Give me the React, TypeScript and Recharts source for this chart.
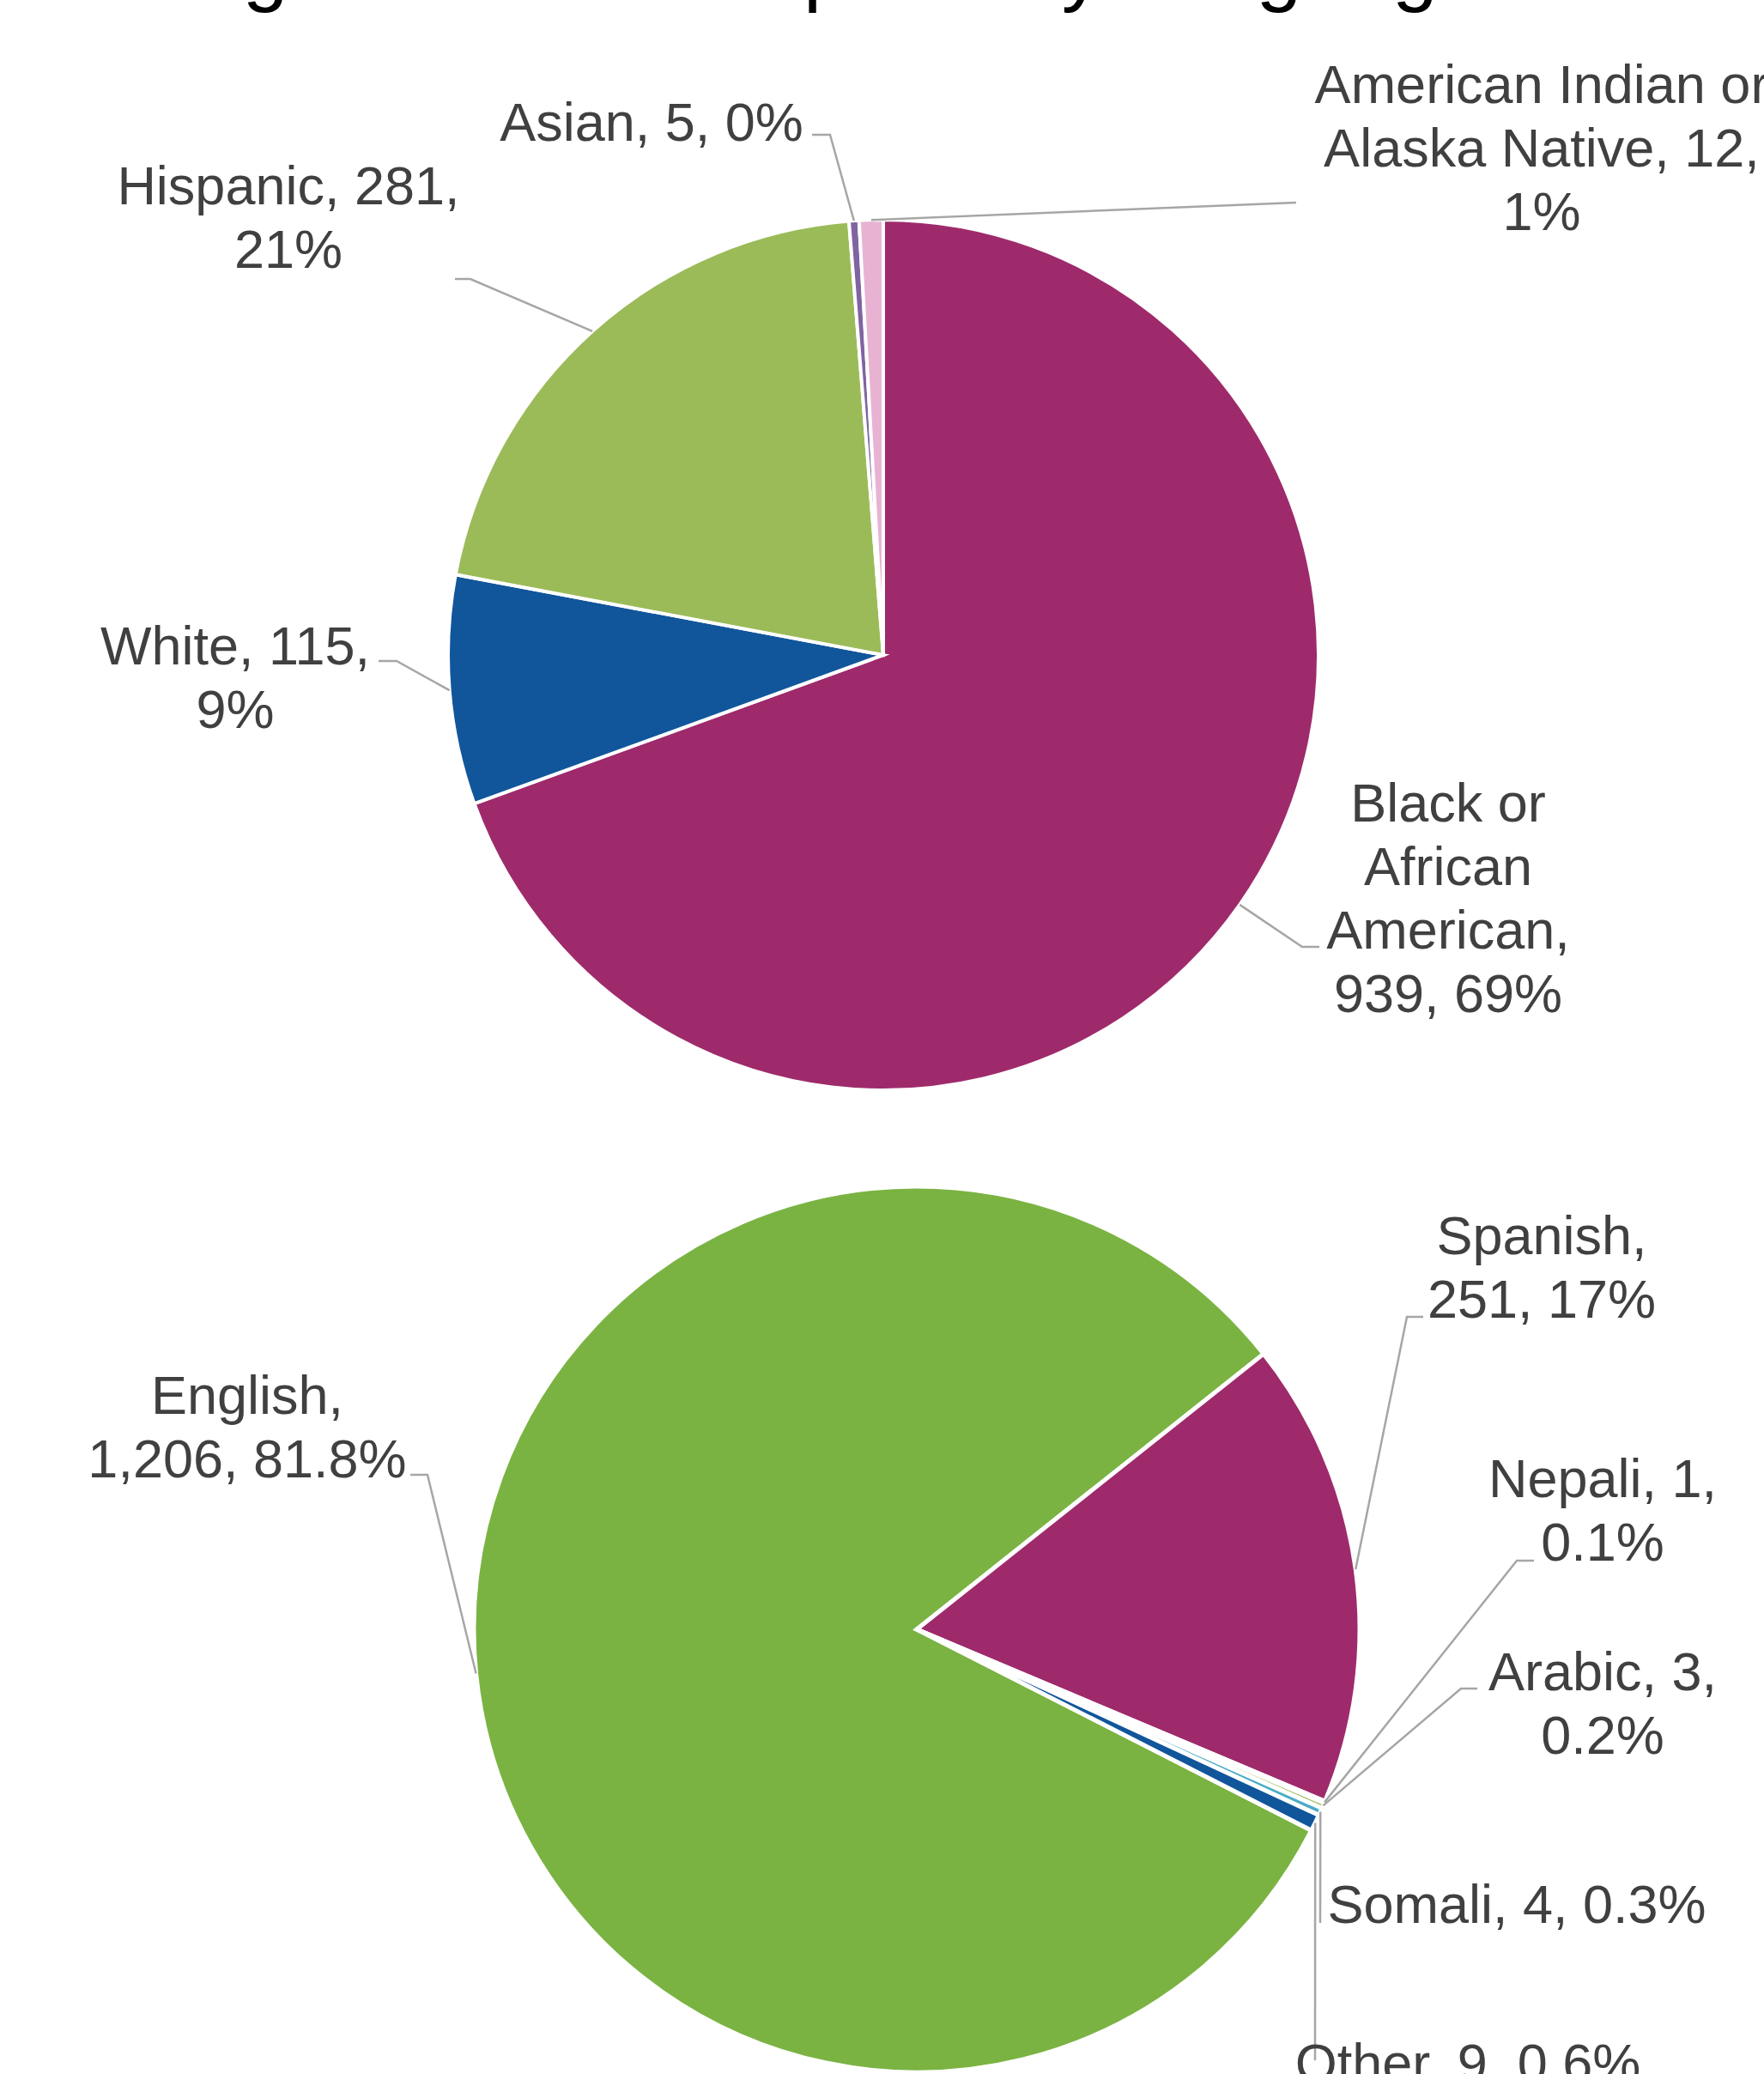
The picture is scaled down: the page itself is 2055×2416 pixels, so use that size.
import React from 'react';
import { PieChart, Pie, Cell } from 'recharts';

const W = 2055;
const H = 2416;
const RADIAN = Math.PI / 180;
const FONT = '"Liberation Sans", Arial, sans-serif';

// top pie: race / ethnicity
const raceNames = ['Black or African American', 'White', 'Hispanic', 'Asian', 'American Indian or Alaska Native'];
const raceCounts = [939, 115, 281, 5, 12];
const racePct = ['69%', '9%', '21%', '0%', '1%'];
const raceColors = ['#9E2A6B', '#11569B', '#9BBB59', '#8064A2', '#E8B3D3'];

// bottom pie: language
const langNames = ['English', 'Spanish', 'Nepali', 'Arabic', 'Somali', 'Other'];
const langCounts = [1206, 251, 1, 3, 4, 9];
const langPct = ['81.8%', '17%', '0.1%', '0.2%', '0.3%', '0.6%'];
const langColors = ['#7AB342', '#9E2A6B', '#D7E4BD', '#9BBB59', '#4BACC6', '#11569B'];

// title words (cut off by the top edge, only the descenders show)
const titleWords = ['Program', 'Participants', 'by', 'Language'];

const fmt = (n: number) => n.toLocaleString('en-US');

const raceData = raceNames.map((name, i) => ({ name, value: raceCounts[i] }));
const langData = langNames.map((name, i) => ({ name, value: langCounts[i] }));

// wrapped label text (the way the labels break in the original)
const raceLines = [
  ['Black or', 'African', 'American,', `${fmt(raceCounts[0])}, ${racePct[0]}`],
  [`${raceNames[1]}, ${fmt(raceCounts[1])},`, racePct[1]],
  [`${raceNames[2]}, ${fmt(raceCounts[2])},`, racePct[2]],
  [`${raceNames[3]}, ${fmt(raceCounts[3])}, ${racePct[3]}`],
  ['American Indian or', `Alaska Native, ${fmt(raceCounts[4])},`, racePct[4]],
];
const langLines = [
  [`${langNames[0]},`, `${fmt(langCounts[0])}, ${langPct[0]}`],
  [`${langNames[1]},`, `${fmt(langCounts[1])}, ${langPct[1]}`],
  [`${langNames[2]}, ${fmt(langCounts[2])},`, langPct[2]],
  [`${langNames[3]}, ${fmt(langCounts[3])},`, langPct[3]],
  [`${langNames[4]}, ${fmt(langCounts[4])}, ${langPct[4]}`],
  [`${langNames[5]}, ${fmt(langCounts[5])}, ${langPct[5]}`],
];

// label placement: text centre x, first baseline, leader bend points
type Place = { x: number; y: number; anchor?: 'start' | 'middle' | 'end'; path: number[][] };
const racePlace: Place[] = [
  { x: 1687, y: 957, path: [[1517, 1103], [1537, 1103]] },
  { x: 274, y: 774, path: [[462, 770], [441, 770]] },
  { x: 336, y: 238, path: [[548, 325], [530, 325]] },
  { x: 759, y: 164, path: [[967, 157], [946, 157]] },
  { x: 1796, y: 120, path: [[1510, 236]] },
];
const langPlace: Place[] = [
  { x: 288, y: 1647, path: [[498, 1718], [478, 1718]] },
  { x: 1796, y: 1461, path: [[1639, 1534], [1658, 1534]] },
  { x: 1867, y: 1744, path: [[1767, 1818], [1787, 1818]] },
  { x: 1867, y: 1969, path: [[1702, 1967], [1721, 1967]] },
  { x: 1767, y: 2240, path: [[1538, 2240]] },
  { x: 1710, y: 2425, path: [[1532, 2400]] },
];
const titleX = [135, 672, 1184, 1305];

const LINE_H = 74;

const makeLabel = (lines: string[][], place: Place[]) => (props: any) => {
  const { cx, cy, midAngle, outerRadius, index } = props;
  const p = place[index];
  const sx = cx + outerRadius * Math.cos(-midAngle * RADIAN);
  const sy = cy + outerRadius * Math.sin(-midAngle * RADIAN);
  const pts = [[sx, sy], ...p.path].map((q) => q.join(',')).join(' ');
  return (
    <g key={`lbl-${index}`}>
      <polyline points={pts} fill="none" stroke="#A6A6A6" strokeWidth={2.5} />
      <text x={p.x} y={p.y} textAnchor={p.anchor || 'middle'} fill="#404040" fontSize={63} fontFamily={FONT}>
        {lines[index].map((ln, i) => (
          <tspan key={i} x={p.x} y={p.y + i * LINE_H}>
            {ln}
          </tspan>
        ))}
      </text>
    </g>
  );
};

export default function App() {
  return (
    <div style={{ position: 'absolute', left: 0, top: 0, width: W, height: H, background: '#fff', overflow: 'hidden' }}>
      <svg width={W} height={40} style={{ position: 'absolute', left: 0, top: 0 }}>
        <text y={-5} fontSize={95} fontFamily={FONT} fill="#000">
          {titleWords.map((w, i) => (
            <tspan key={w} x={titleX[i]}>
              {w}
            </tspan>
          ))}
        </text>
      </svg>
      <PieChart width={W} height={H} margin={{ top: 0, right: 0, bottom: 0, left: 0 }}>
        <Pie
          data={raceData}
          dataKey="value"
          nameKey="name"
          cx={1029}
          cy={763}
          outerRadius={507}
          startAngle={90}
          endAngle={-270}
          stroke="#fff"
          strokeWidth={4}
          labelLine={false}
          label={makeLabel(raceLines, racePlace)}
          isAnimationActive={false}
        >
          {raceData.map((d, i) => (
            <Cell key={`race-${i}`} fill={raceColors[i]} />
          ))}
        </Pie>
        <Pie
          data={langData}
          dataKey="value"
          nameKey="name"
          cx={1068}
          cy={1898}
          outerRadius={516}
          startAngle={-27}
          endAngle={-387}
          stroke="#fff"
          strokeWidth={5}
          labelLine={false}
          label={makeLabel(langLines, langPlace)}
          isAnimationActive={false}
        >
          {langData.map((d, i) => (
            <Cell key={`lang-${i}`} fill={langColors[i]} />
          ))}
        </Pie>
      </PieChart>
    </div>
  );
}
